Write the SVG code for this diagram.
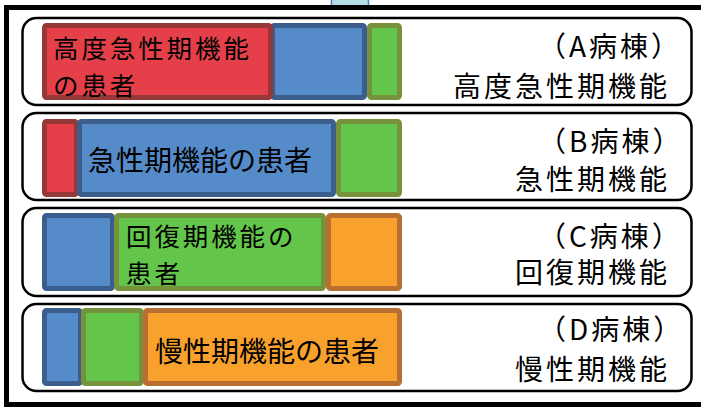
<svg xmlns="http://www.w3.org/2000/svg" width="701" height="407" viewBox="0 0 701 407">
<style>
.row{fill:#fff;stroke:#000;stroke-width:2.5}
.bar{stroke-width:5}
.r{fill:#e5404a;stroke:#953837}
.b{fill:#568bc9;stroke:#3b5e8c}
.g{fill:#63c64a;stroke:#77923d}
.o{fill:#f9a12d;stroke:#b86f31}
text{font-family:"Noto Sans CJK JP","Noto Sans CJK SC",sans-serif;font-size:28px;fill:#000}
.lab{letter-spacing:3px}
.wrap{font-size:25.5px;letter-spacing:2.9px}
</style>
<rect x="0" y="0" width="701" height="407" fill="#fff"/>
<rect x="331.5" y="-4" width="37" height="10" fill="#b7dee8" stroke="#4f81bd" stroke-width="1.5"/>
<rect x="6.5" y="7.5" width="730" height="397" fill="none" stroke="#000" stroke-width="5"/>

<g id="rowA">
<rect class="row" x="22.5" y="18" width="669" height="87" rx="14"/>
<rect class="bar b" x="272.5" y="25.5" width="92" height="72" rx="2"/>
<rect class="bar r" x="44.5" y="25.5" width="226" height="72" rx="2"/>
<rect class="bar g" x="369.5" y="25.5" width="30" height="72" rx="2"/>
<text class="wrap" x="53" y="58">高度急性期機能<tspan x="53" y="95">の患者</tspan></text>
<text class="lab" x="538" y="57">（A病棟）<tspan x="670" y="97" text-anchor="end">高度急性期機能</tspan></text>
</g>

<g id="rowB">
<rect class="row" x="22.5" y="113" width="669" height="87" rx="14"/>
<rect class="bar r" x="44.5" y="121.5" width="32" height="73" rx="2"/>
<rect class="bar b" x="79.5" y="121.5" width="254" height="73" rx="2"/>
<rect class="bar g" x="338.5" y="121.5" width="61" height="73" rx="2"/>
<text x="88" y="171">急性期機能の患者</text>
<text class="lab" x="538" y="152">（B病棟）<tspan x="670" y="190" text-anchor="end">急性期機能</tspan></text>
</g>

<g id="rowC">
<rect class="row" x="22.5" y="208" width="669" height="88" rx="14"/>
<rect class="bar b" x="44.5" y="215.5" width="68" height="73" rx="2"/>
<rect class="bar g" x="116.5" y="215.5" width="207" height="73" rx="2"/>
<rect class="bar o" x="328.5" y="215.5" width="71" height="73" rx="2"/>
<text class="wrap" x="126" y="246">回復期機能の<tspan x="126" y="283">患者</tspan></text>
<text class="lab" x="538" y="247">（C病棟）<tspan x="670" y="283" text-anchor="end">回復期機能</tspan></text>
</g>

<g id="rowD">
<rect class="row" x="22.5" y="304" width="669" height="87" rx="14"/>
<rect class="bar b" x="44.5" y="310.5" width="36" height="73" rx="2"/>
<rect class="bar g" x="83.5" y="310.5" width="58" height="73" rx="2"/>
<rect class="bar o" x="145.5" y="310.5" width="254" height="73" rx="2"/>
<text x="155" y="362">慢性期機能の患者</text>
<text class="lab" x="538" y="340">（D病棟）<tspan x="670" y="380" text-anchor="end">慢性期機能</tspan></text>
</g>

<g id="connectors"/>
</svg>
